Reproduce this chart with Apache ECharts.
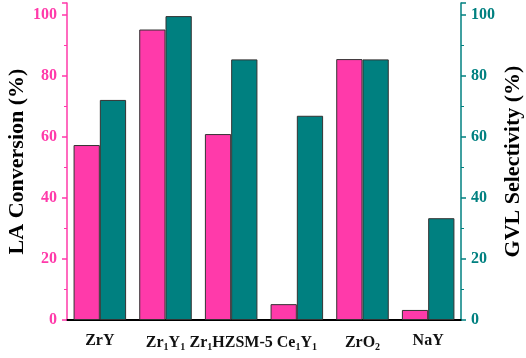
<!DOCTYPE html>
<html><head><meta charset="utf-8">
<script src="https://cdn.jsdelivr.net/npm/echarts@6/dist/echarts.min.js"></script>
<style>html,body{margin:0;padding:0;background:#fff}#c{width:526px;height:358px}</style>
</head><body><div id="c"></div>
<script>
const categories = ['ZrY', 'Zr1Y1', 'Zr1HZSM-5', 'Ce1Y1', 'ZrO2', 'NaY'];
const laConversion = [57.4, 95.3, 61.0, 5.2, 85.6, 3.3];
const gvlSelectivity = [72.2, 99.7, 85.5, 67.0, 85.5, 33.4];
const yTicks = [0, 20, 40, 60, 80, 100];

const pink = '#ff3aaa';
const teal = '#008080';
const font = '"Liberation Serif", "Times New Roman", serif';

const catRich = {
  n: { fontFamily: font, fontWeight: 'bold', fontSize: 16, color: '#111' },
  s: { fontFamily: font, fontWeight: 'bold', fontSize: 10, color: '#111', verticalAlign: 'bottom', padding: [9, 0, 0, 0] }
};
function catLabel(v) {
  const m = {
    'Zr1Y1': '{n|Zr}{s|1}{n|Y}{s|1}',
    'Zr1HZSM-5': '{n|Zr}{s|1}{n|HZSM-5}',
    'Ce1Y1': '{n|Ce}{s|1}{n|Y}{s|1}',
    'ZrO2': '{n|ZrO}{s|2}'
  };
  return m[v] || '{n|' + v + '}';
}
const chart = echarts.init(document.getElementById('c'));
chart.setOption({
  animation: false,
  grid: { left: 67, right: 65, top: 3, bottom: 38, containLabel: false, outerBoundsMode: 'none' },
  xAxis: [{
    type: 'category', data: categories, position: 'bottom',
    axisLine: { lineStyle: { color: '#000', width: 2 } },
    axisTick: { alignWithLabel: true, length: 5, lineStyle: { color: '#000', width: 1.5 } },
    axisLabel: { margin: 13, interval: 0, hideOverlap: false, formatter: catLabel, rich: catRich }
  }, {
    type: 'category', data: categories, position: 'top',
    axisLine: { lineStyle: { color: '#000', width: 2 } },
    axisTick: { show: false }, axisLabel: { show: false }
  }],
  yAxis: [{
    type: 'value', min: 0, max: 104, interval: 20, position: 'left',
    name: 'LA Conversion (%)', nameLocation: 'middle', nameGap: 39, nameMoveOverlap: false,
    nameTextStyle: { fontFamily: font, fontWeight: 'bold', fontSize: 22, color: '#000' },
    axisLine: { show: true, lineStyle: { color: pink, width: 1.5 } },
    axisTick: { show: true, length: 5, lineStyle: { color: pink, width: 1.5 } },
    minorTick: { show: true, splitNumber: 2, length: 3, lineStyle: { color: pink, width: 1 } },
    splitLine: { show: false },
    axisLabel: { color: pink, fontFamily: font, fontWeight: 'bold', fontSize: 16, margin: 10,
      formatter: v => yTicks.includes(v) ? String(v) : '' }
  }, {
    type: 'value', min: 0, max: 104, interval: 20, position: 'right',
    name: 'GVL Selectivity (%)', nameLocation: 'middle', nameGap: 41, nameRotate: 90, nameMoveOverlap: false,
    nameTextStyle: { fontFamily: font, fontWeight: 'bold', fontSize: 22, color: '#000' },
    axisLine: { show: true, lineStyle: { color: teal, width: 1.5 } },
    axisTick: { show: true, length: 5, lineStyle: { color: teal, width: 1.5 } },
    minorTick: { show: true, splitNumber: 2, length: 3, lineStyle: { color: teal, width: 1 } },
    splitLine: { show: false },
    axisLabel: { color: teal, fontFamily: font, fontWeight: 'bold', fontSize: 16, margin: 10,
      formatter: v => yTicks.includes(v) ? String(v) : '' }
  }],
  series: [{
    type: 'bar', name: 'LA Conversion', data: laConversion, yAxisIndex: 0,
    barGap: '0%', barCategoryGap: '20%',
    itemStyle: { color: pink, borderColor: '#333', borderWidth: 1 }
  }, {
    type: 'bar', name: 'GVL Selectivity', data: gvlSelectivity, yAxisIndex: 1,
    barGap: '0%', barCategoryGap: '20%',
    itemStyle: { color: teal, borderColor: '#333', borderWidth: 1 }
  }]
});
</script></body></html>
